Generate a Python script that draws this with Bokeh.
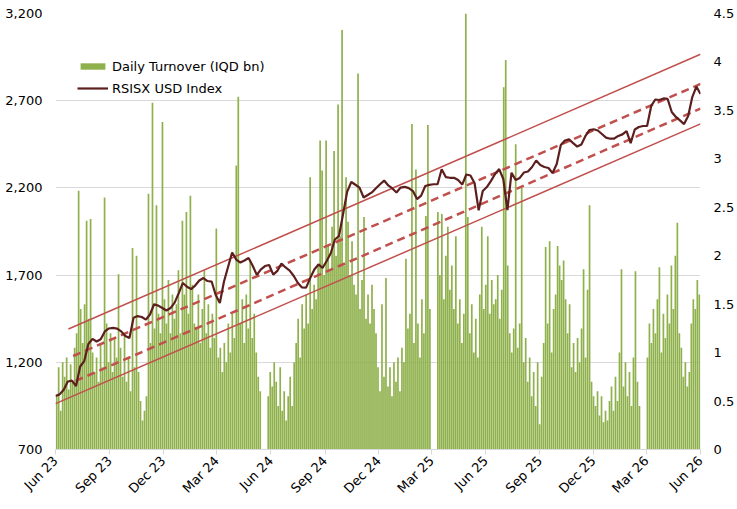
import math
import pandas as pd
from bokeh.plotting import figure
from bokeh.models import (Range1d, LinearAxis, FixedTicker, NumeralTickFormatter,
                          DatetimeTickFormatter, Legend, LegendItem)
from bokeh.embed import file_html
from bokeh.resources import INLINE

# Daily turnover (IQD bn) (about one bar every ~3.4 days)
turnover = [
    0.55, 0.85, 0.40, 0.90, 0.75, 0.95, 0.62, 0.88, 0.70, 1.05,
    1.20, 2.67, 1.45, 1.10, 1.50, 2.36, 1.35, 2.38, 1.00, 0.80,
    0.95, 0.70, 1.10, 0.85, 2.60, 1.30, 0.90, 1.20, 0.80, 1.15,
    0.95, 1.81, 1.05, 0.75, 1.20, 0.70, 0.95, 0.60, 2.08, 0.85,
    2.00, 0.80, 0.50, 0.30, 0.40, 0.55, 2.64, 1.10, 3.58, 1.25,
    2.52, 1.40, 1.20, 3.38, 1.55, 1.30, 1.75, 1.20, 1.60, 1.35,
    1.50, 1.85, 1.20, 2.36, 1.60, 2.45, 1.40, 2.62, 1.70, 1.30,
    1.25, 1.60, 1.10, 1.45, 1.85, 1.20, 1.50, 1.05, 1.40, 1.15,
    2.28, 0.95, 1.05, 0.80, 1.10, 0.90, 1.30, 1.00, 1.40, 1.15,
    2.93, 3.64, 1.30, 1.55, 1.10, 1.60, 1.25, 1.95, 1.15, 1.40,
    1.00, 0.75, 0.60, 0.00, 0.00, 0.00, 0.55, 0.80, 0.65, 0.90,
    0.70, 0.45, 0.85, 0.40, 0.60, 0.30, 0.55, 0.75, 0.45, 0.90,
    1.10, 1.35, 0.95, 1.50, 1.25, 1.60, 1.30, 2.81, 1.45, 1.70,
    1.55, 1.90, 3.19, 2.88, 1.80, 3.19, 2.10, 1.85, 2.30, 3.08,
    2.00, 3.56, 2.20, 4.33, 1.90, 2.81, 2.35, 1.80, 2.15, 1.70,
    1.60, 3.88, 1.45, 1.75, 2.40, 1.35, 1.60, 1.30, 1.70, 1.45,
    1.20, 0.85, 0.60, 1.50, 0.75, 1.77, 0.65, 0.85, 0.55, 0.90,
    0.70, 0.95, 0.60, 1.05, 0.90, 1.97, 1.25, 1.40, 3.36, 1.10,
    2.89, 1.30, 0.95, 1.55, 1.20, 2.41, 3.35, 1.45, 0.00, 0.00,
    0.00, 2.45, 1.80, 2.43, 1.55, 2.00, 2.30, 1.65, 1.90, 1.45,
    2.20, 1.30, 1.55, 1.10, 1.40, 4.50, 2.40, 1.20, 1.50, 1.00,
    1.35, 0.95, 1.60, 2.30, 1.45, 1.70, 2.20, 1.40, 1.75, 1.50,
    1.55, 1.80, 1.35, 1.65, 3.74, 4.02, 1.90, 1.20, 1.00, 1.25,
    3.15, 1.05, 1.30, 2.72, 0.90, 1.15, 0.70, 0.95, 0.55, 0.80,
    0.45, 0.90, 0.26, 0.75, 1.10, 2.09, 1.30, 2.15, 1.00, 1.45,
    1.60, 2.10, 1.90, 1.75, 1.95, 1.55, 1.20, 1.50, 0.85, 1.10,
    0.80, 1.15, 0.90, 1.25, 1.86, 0.95, 1.65, 2.52, 0.70, 0.55,
    0.45, 0.60, 0.35, 0.55, 0.28, 0.40, 0.30, 0.50, 0.65, 0.40,
    0.75, 0.50, 1.00, 1.86, 0.65, 0.90, 0.55, 0.80, 0.45, 0.95,
    1.84, 0.70, 0.45, 0.00, 0.00, 0.00, 0.95, 1.30, 1.10, 1.45,
    1.20, 1.55, 1.88, 1.00, 1.40, 1.15, 1.60, 1.30, 1.90, 1.45,
    2.00, 2.34, 1.20, 1.05, 0.75, 0.90, 0.65, 0.80, 1.30, 1.55,
    1.45, 1.75, 1.60,
]
turnover_start, turnover_end = "2023-06-03", "2026-05-30"

# RSISX USD Index, weekly readings
index_values = [
    1007, 1016, 1043, 1090, 1095, 1064, 1176, 1207, 1305, 1334,
    1319, 1332, 1377, 1394, 1397, 1393, 1377, 1351, 1339, 1456,
    1465, 1460, 1445, 1474, 1533, 1525, 1511, 1497, 1511, 1542,
    1597, 1655, 1633, 1620, 1640, 1669, 1683, 1666, 1663, 1586,
    1540, 1662, 1746, 1830, 1789, 1772, 1784, 1798, 1754, 1701,
    1733, 1752, 1758, 1703, 1724, 1767, 1744, 1726, 1695, 1655,
    1629, 1628, 1683, 1732, 1761, 1741, 1781, 1825, 1904, 1924,
    2050, 2179, 2234, 2218, 2202, 2145, 2159, 2174, 2198, 2221,
    2242, 2214, 2197, 2174, 2202, 2206, 2199, 2182, 2136, 2156,
    2211, 2217, 2221, 2221, 2307, 2262, 2258, 2258, 2245, 2219,
    2277, 2271, 2228, 2072, 2182, 2205, 2240, 2280, 2308, 2251,
    2072, 2287, 2245, 2257, 2288, 2294, 2320, 2357, 2331, 2320,
    2314, 2285, 2337, 2446, 2472, 2478, 2457, 2437, 2449, 2498,
    2532, 2536, 2529, 2509, 2488, 2482, 2483, 2498, 2507, 2526,
    2457, 2535, 2549, 2555, 2555, 2670, 2707, 2704, 2713, 2710,
    2635, 2607, 2587, 2566, 2612, 2721, 2781, 2738,
]
index_start, index_end = "2023-06-01", "2026-06-01"

# Trend channel lines (start/end dates and index levels)
upper_band_dates = ["2023-06-23", "2026-06-01"]
upper_band_values = [1391, 2966]
upper_mid_dates = ["2023-07-01", "2026-06-01"]
upper_mid_values = [1236, 2796]
lower_mid_dates = ["2023-07-05", "2026-06-01"]
lower_mid_values = [1093, 2655]
lower_band_dates = ["2023-06-01", "2026-06-01"]
lower_band_values = [963, 2567]

left_ticks = [700, 1200, 1700, 2200, 2700, 3200]
right_ticks = [0, 0.5, 1, 1.5, 2, 2.5, 3, 3.5, 4, 4.5]
x_tick_dates = pd.date_range("2023-06-01", "2026-06-01", freq="3MS")

FONT = "DejaVu Sans"
FS = "13px"
GREEN = "#8FB14C"
RED = "#C0504D"
MAROON = "#5C1F1E"
GRID = "#D9D9D9"

bar_dates = pd.date_range(turnover_start, turnover_end, periods=len(turnover))
line_dates = pd.date_range(index_start, index_end, periods=len(index_values))
bar_step_ms = (bar_dates[1] - bar_dates[0]).total_seconds() * 1000.0


def ms(d):
    return pd.Timestamp(d).value / 1e6


p = figure(width=737, height=509, output_backend="svg", toolbar_location=None,
           x_axis_type="datetime",
           x_range=Range1d(ms("2023-06-01"), ms("2026-06-01")),
           y_range=Range1d(700, 3200),
           min_border_left=55, min_border_right=35, min_border_top=13, min_border_bottom=60)
p.extra_y_ranges = {"turn": Range1d(0, 4.5)}
p.outline_line_color = None
p.background_fill_color = "white"
p.border_fill_color = "white"

bars = p.vbar(x=bar_dates, top=turnover, width=bar_step_ms * 0.85, y_range_name="turn",
              fill_color=GREEN, line_color=None)

for dts, vals, dash, w in [
    (upper_band_dates, upper_band_values, "solid", 1.5),
    (upper_mid_dates, upper_mid_values, "8 5", 2.5),
    (lower_mid_dates, lower_mid_values, "8 5", 2.5),
    (lower_band_dates, lower_band_values, "solid", 1.5),
]:
    p.line(x=[ms(d) for d in dts], y=vals, line_color=RED, line_width=w, line_dash=dash)

line = p.line(x=line_dates, y=index_values, line_color=MAROON, line_width=2.2)

# Left axis
yl = p.left[0]
yl.ticker = FixedTicker(ticks=left_ticks)
yl.formatter = NumeralTickFormatter(format="0,0")
yl.axis_line_color = None
yl.major_tick_line_color = None
yl.minor_tick_line_color = None
yl.major_tick_out = 0
yl.major_tick_in = 0
yl.major_label_standoff = 13
yl.major_label_text_font = FONT
yl.major_label_text_font_size = FS
yl.major_label_text_color = "black"

# Right axis
yr = LinearAxis(y_range_name="turn", ticker=FixedTicker(ticks=right_ticks),
                formatter=NumeralTickFormatter(format="0.[0]"))
yr.axis_line_color = None
yr.major_tick_line_color = None
yr.minor_tick_line_color = None
yr.major_tick_out = 0
yr.major_tick_in = 0
yr.major_label_standoff = 13
yr.major_label_text_font = FONT
yr.major_label_text_font_size = FS
yr.major_label_text_color = "black"
p.add_layout(yr, "right")

# Bottom axis
xa = p.below[0]
xa.ticker = FixedTicker(ticks=[ms(d) for d in x_tick_dates])
xa.formatter = DatetimeTickFormatter(days="%b %y", months="%b %y", years="%b %y",
                                     hours="%b %y", minutes="%b %y")
xa.major_label_orientation = math.pi / 4
xa.axis_line_color = GRID
xa.major_tick_line_color = GRID
xa.major_tick_out = 5
xa.major_tick_in = 0
xa.minor_tick_line_color = None
xa.major_label_standoff = 4
xa.major_label_text_font = FONT
xa.major_label_text_font_size = FS
xa.major_label_text_color = "black"

p.xgrid.grid_line_color = None
p.ygrid.ticker = FixedTicker(ticks=left_ticks)
p.ygrid.grid_line_color = GRID
p.ygrid.grid_line_width = 1

legend = Legend(items=[LegendItem(label="Daily Turnover (IQD bn)", renderers=[bars]),
                       LegendItem(label="RSISX USD Index", renderers=[line])],
                location=(22, 352), glyph_width=31, glyph_height=8, label_height=18,
                spacing=4, padding=0, margin=0, label_standoff=4,
                border_line_color=None, background_fill_alpha=0,
                label_text_font=FONT, label_text_font_size=FS, label_text_color="black")
p.add_layout(legend)

open("out.html", "w").write(file_html(p, INLINE))
